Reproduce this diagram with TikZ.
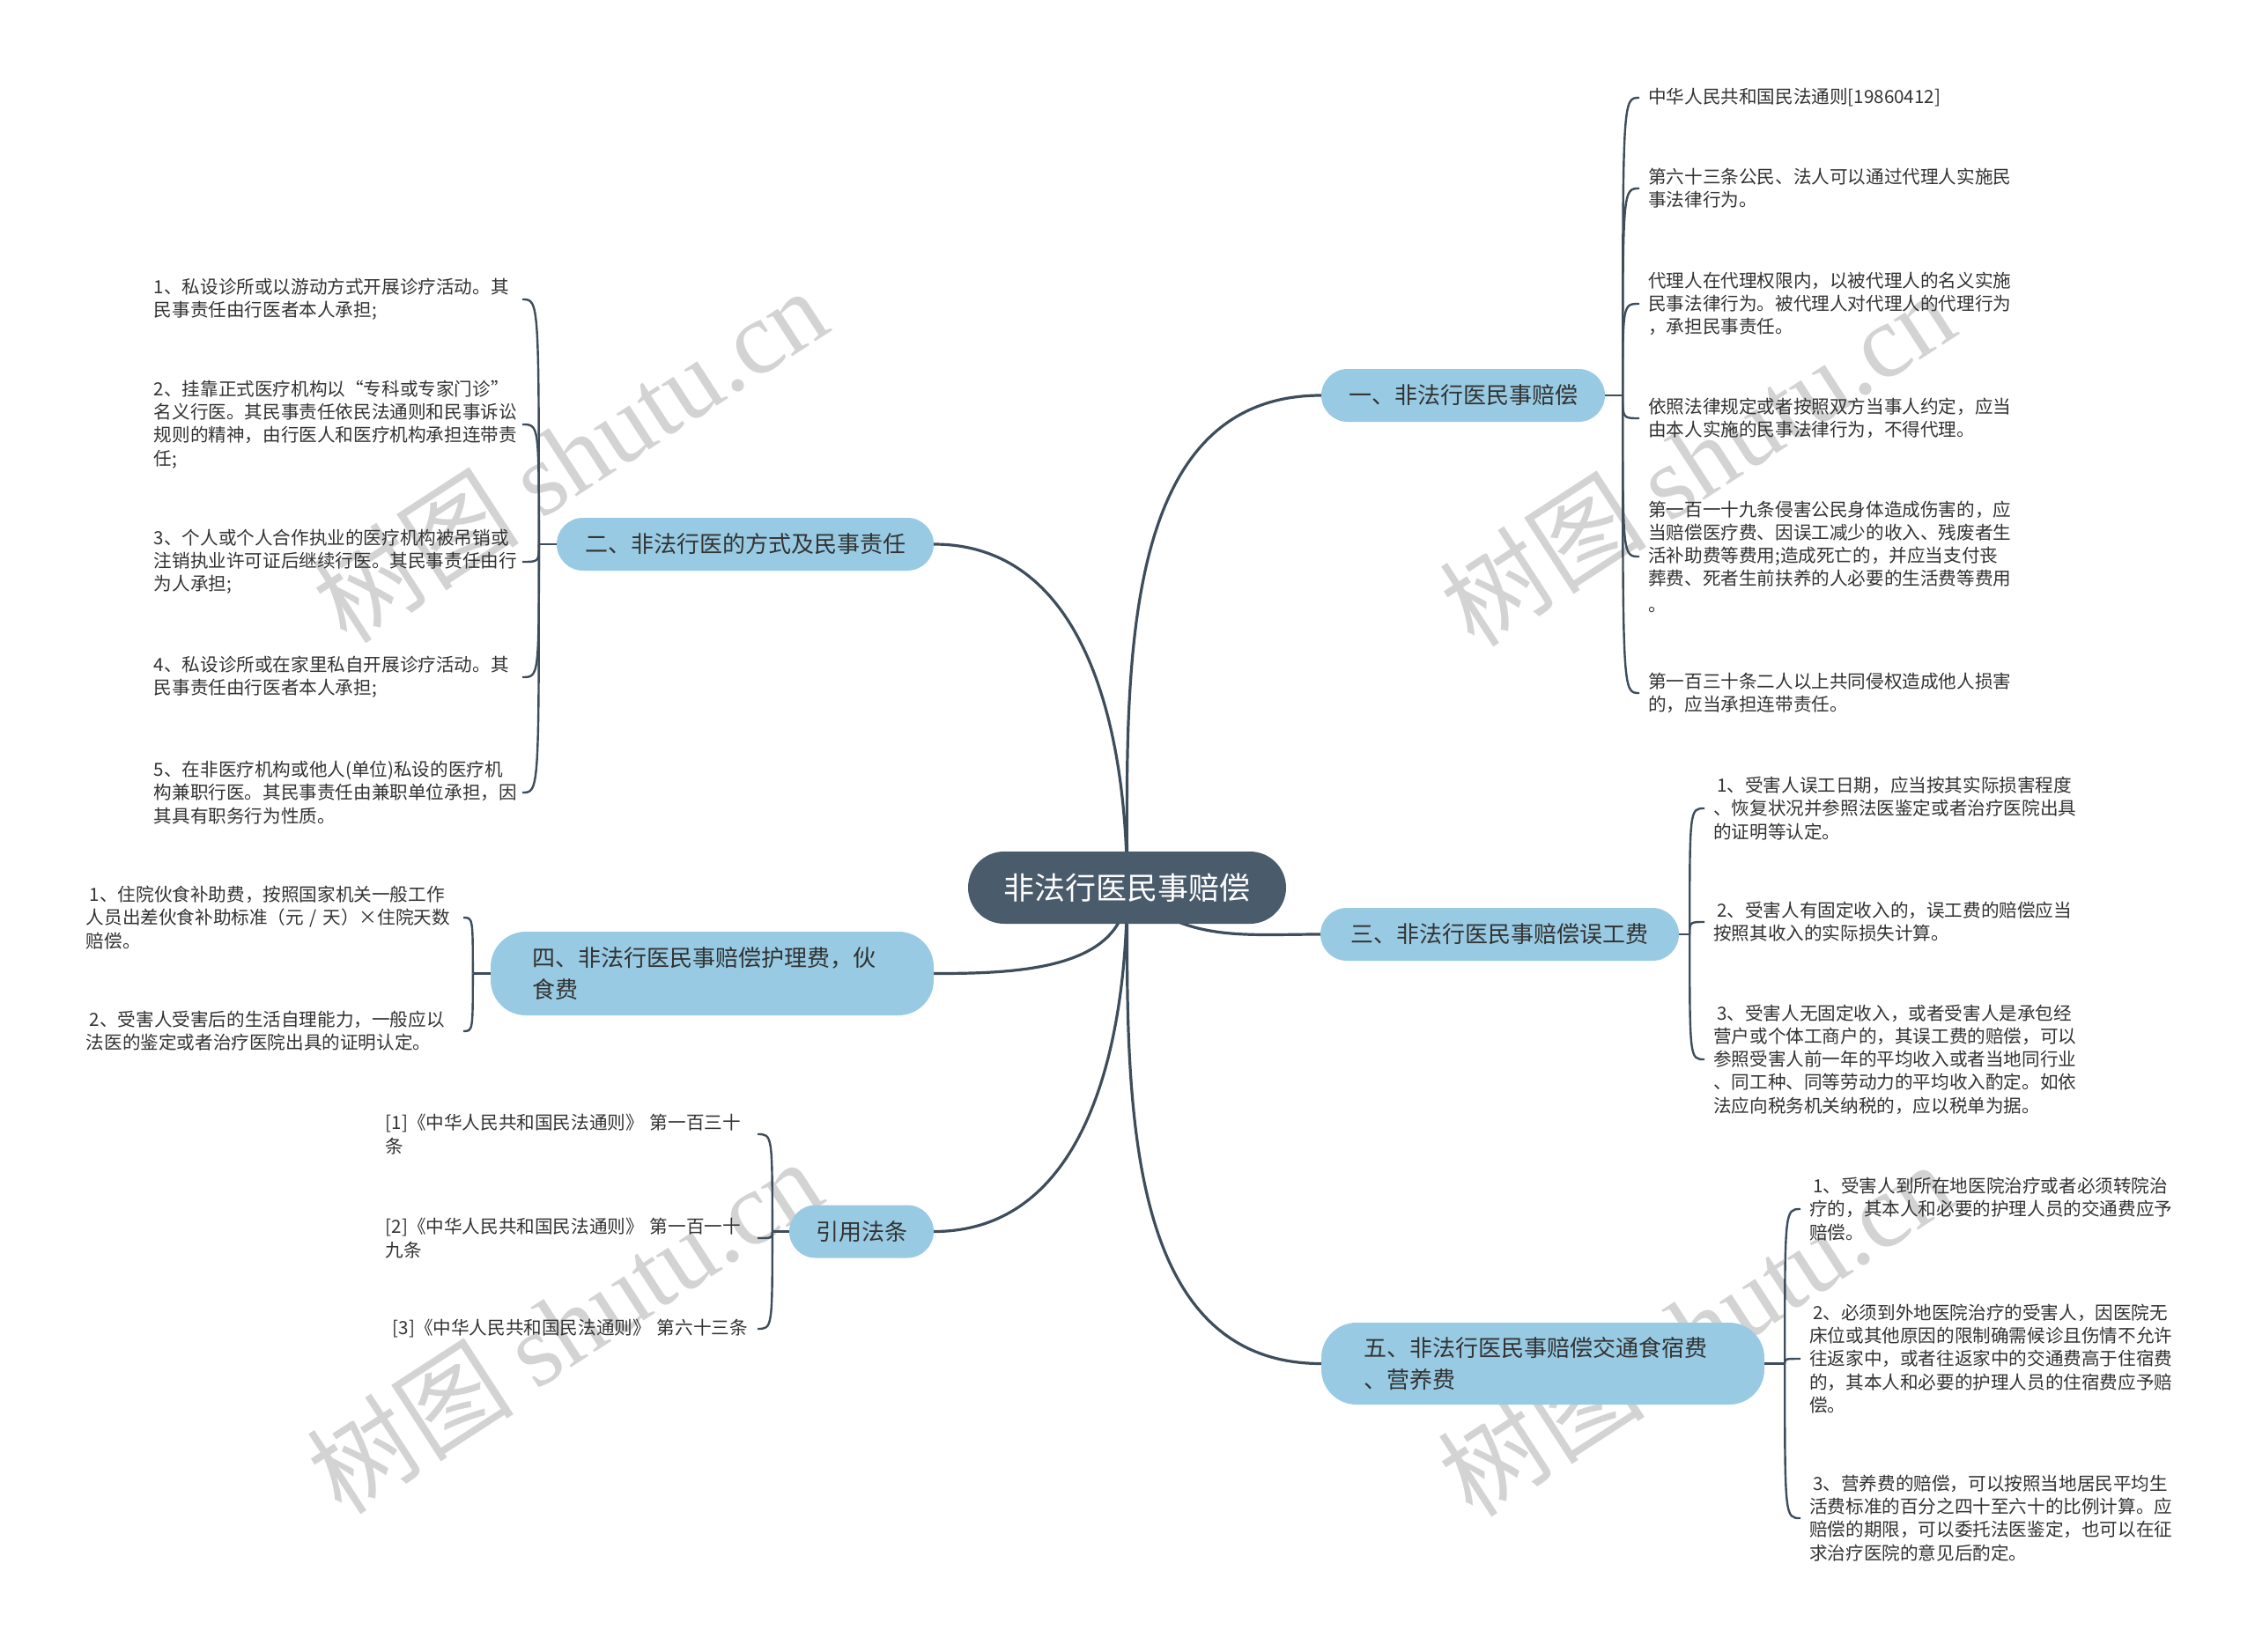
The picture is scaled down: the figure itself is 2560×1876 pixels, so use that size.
\documentclass[tikz,border=0pt]{standalone}
\usepackage{fontspec}
\setmainfont{Noto Sans CJK SC}
\newfontfamily\wmserif{Liberation Serif}
\usetikzlibrary{backgrounds}

\definecolor{lineC}{HTML}{3E4D5B}
\definecolor{rootC}{HTML}{4A5B6B}
\definecolor{mainC}{HTML}{98CBE3}
\definecolor{txtC}{HTML}{333333}
\definecolor{wmC}{HTML}{D3D3D3}

\begin{document}
\begin{tikzpicture}[x=1pt,y=-1pt,
 root/.style={fill=rootC, text=white, rounded corners=41pt, minimum width=361pt, minimum height=82pt, inner sep=0pt, font=\fontsize{35}{42}\selectfont},
 mainnode/.style={fill=mainC, text=txtC, rounded corners=30pt, minimum height=60pt, inner sep=0pt, font=\fontsize{26}{36}\selectfont},
 leafR/.style={anchor=west, inner xsep=10pt, inner ysep=0pt, text width=425pt, align=left, text=txtC, font=\fontsize{20.6}{26.2}\selectfont},
 leafL/.style={anchor=east, inner xsep=0pt, inner ysep=0pt, align=left, text=txtC, font=\fontsize{20.6}{26.2}\selectfont},
 link/.style={draw=lineC, line width=3.2pt},
 twig/.style={draw=lineC, line width=2.4pt},
 wm/.style={text=wmC, rotate=33, font=\fontsize{118}{122}\selectfont, inner sep=0pt}
]
\useasboundingbox (0,0) rectangle (2560,1876);

% root and main branches
\node[root] (C) at (1279.5,1008) {非法行医民事赔偿};
\node[mainnode, minimum width=322pt] (B1) at (1661,449) {一、非法行医民事赔偿};
\node[mainnode, minimum width=428pt] (B2) at (846,618) {二、非法行医的方式及民事责任};
\node[mainnode, minimum width=407pt] (B3) at (1702.5,1061) {三、非法行医民事赔偿误工费};
\node[mainnode, minimum width=503pt, minimum height=95pt, text width=409pt, align=left, rounded corners=40pt] (B4) at (808.5,1105.5) {四、非法行医民事赔偿护理费，伙\\食费};
\node[mainnode, minimum width=164pt] (B5) at (978,1398.5) {引用法条};
\node[mainnode, minimum width=503pt, minimum height=93pt, text width=407pt, align=left, rounded corners=40pt] (B6) at (1751.5,1548.5) {五、非法行医民事赔偿交通食宿费\\、营养费};

% junctions
\coordinate (J1) at ([xshift=20pt]B1.east);
\coordinate (J2) at ([xshift=-20pt]B2.west);
\coordinate (J3) at ([xshift=12pt]B3.east);
\coordinate (J4) at ([xshift=-20pt]B4.west);
\coordinate (J5) at ([xshift=-19pt]B5.west);
\coordinate (J6) at ([xshift=23pt]B6.east);

% branch 1 leaves
\node[leafR] (L1a) at (1861,111) {中华人民共和国民法通则[19860412]};
\node[leafR] (L1b) at (1861,214) {第六十三条公民、法人可以通过代理人实施民\\事法律行为。};
\node[leafR] (L1c) at (1861,345) {代理人在代理权限内，以被代理人的名义实施\\民事法律行为。被代理人对代理人的代理行为\\，承担民事责任。};
\node[leafR] (L1d) at (1861,475) {依照法律规定或者按照双方当事人约定，应当\\由本人实施的民事法律行为，不得代理。};
\node[leafR] (L1e) at (1861,632) {第一百一十九条侵害公民身体造成伤害的，应\\当赔偿医疗费、因误工减少的收入、残废者生\\活补助费等费用;造成死亡的，并应当支付丧\\葬费、死者生前扶养的人必要的生活费等费用\\[3pt]。};
\node[leafR] (L1f) at (1861,787) {第一百三十条二人以上共同侵权造成他人损害\\的，应当承担连带责任。};

% branch 2 leaves
\node[leafL, text width=418pt] (L2a) at (593,340) {1、私设诊所或以游动方式开展诊疗活动。其\\民事责任由行医者本人承担;};
\node[leafL, text width=418pt] (L2b) at (593,482) {2、挂靠正式医疗机构以“专科或专家门诊”\\名义行医。其民事责任依民法通则和民事诉讼\\规则的精神，由行医人和医疗机构承担连带责\\任;};
\node[leafL, text width=418pt] (L2c) at (593,638) {3、个人或个人合作执业的医疗机构被吊销或\\注销执业许可证后继续行医。其民事责任由行\\为人承担;};
\node[leafL, text width=418pt] (L2d) at (593,769) {4、私设诊所或在家里私自开展诊疗活动。其\\民事责任由行医者本人承担;};
\node[leafL, text width=418pt] (L2e) at (593,900) {5、在非医疗机构或他人(单位)私设的医疗机\\构兼职行医。其民事责任由兼职单位承担，因\\其具有职务行为性质。};

% branch 3 leaves
\node[leafR] (L3a) at (1935,918) {\hspace*{4pt}1、受害人误工日期，应当按其实际损害程度\\、恢复状况并参照法医鉴定或者治疗医院出具\\的证明等认定。};
\node[leafR] (L3b) at (1935,1047) {\hspace*{4pt}2、受害人有固定收入的，误工费的赔偿应当\\按照其收入的实际损失计算。};
\node[leafR] (L3c) at (1935,1203) {\hspace*{4pt}3、受害人无固定收入，或者受害人是承包经\\营户或个体工商户的，其误工费的赔偿，可以\\参照受害人前一年的平均收入或者当地同行业\\、同工种、同等劳动力的平均收入酌定。如依\\法应向税务机关纳税的，应以税单为据。};

% branch 4 leaves
\node[leafL, text width=428pt] (L4a) at (526,1042) {\hspace*{4pt}1、住院伙食补助费，按照国家机关一般工作\\人员出差伙食补助标准（元 / 天）×住院天数\\赔偿。};
\node[leafL, text width=428pt] (L4b) at (526,1171) {\hspace*{4pt}2、受害人受害后的生活自理能力，一般应以\\法医的鉴定或者治疗医院出具的证明认定。};

% citations
\node[leafL, text width=422pt] (L5a) at (860,1288) {[1]《中华人民共和国民法通则》 第一百三十\\条};
\node[leafL, text width=422pt] (L5b) at (860,1406) {[2]《中华人民共和国民法通则》 第一百一十\\九条};
\node[leafL, text width=422pt] (L5c) at (860,1509) {\hspace*{8pt}[3]《中华人民共和国民法通则》 第六十三条};

% branch 5 leaves
\node[leafR] (L6a) at (2044,1373) {\hspace*{4pt}1、受害人到所在地医院治疗或者必须转院治\\疗的，其本人和必要的护理人员的交通费应予\\赔偿。};
\node[leafR] (L6b) at (2044,1543) {\hspace*{4pt}2、必须到外地医院治疗的受害人，因医院无\\床位或其他原因的限制确需候诊且伤情不允许\\往返家中，或者往返家中的交通费高于住宿费\\的，其本人和必要的护理人员的住宿费应予赔\\偿。};
\node[leafR] (L6c) at (2044,1724) {\hspace*{4pt}3、营养费的赔偿，可以按照当地居民平均生\\活费标准的百分之四十至六十的比例计算。应\\赔偿的期限，可以委托法医鉴定，也可以在征\\求治疗医院的意见后酌定。};

\begin{pgfonlayer}{background}
\fill[white] (0,0) rectangle (2560,1876);
% watermarks
\node[wm] (W1) at (646,516) {树图 {\wmserif shutu.cn}};
\node[wm] (W2) at (1926,520) {树图 {\wmserif shutu.cn}};
\node[wm] (W3) at (640,1505) {树图 {\wmserif shutu.cn}};
\node[wm] (W4) at (1924,1508) {树图 {\wmserif shutu.cn}};

% main connectors
\draw[link] (C.center) to[out=90,in=180] (B1.west);
\draw[link] (C.center) to[out=90,in=0] (B2.east);
\draw[link] (C.center) to[out=-45,in=180] (B3.west);
\draw[link] (C.center) to[out=-90,in=0] (B4.east);
\draw[link] (C.center) to[out=-90,in=0] (B5.east);
\draw[link] (C.center) to[out=-90,in=180] (B6.west);

% stubs
\draw[twig] (B1.east) -- (J1);
\draw[twig] (B2.west) -- (J2);
\draw[twig] (B3.east) -- (J3);
\draw[twig] (B4.west) -- (J4);
\draw[twig] (B5.west) -- (J5);
\draw[twig] (B6.east) -- (J6);

% leaf brackets
\foreach \l in {L1a,L1b,L1c,L1d,L1e,L1f}
  \draw[twig] (J1) .. controls (J1 |- \l.west) .. (\l.west);
\foreach \l in {L3a,L3b,L3c}
  \draw[twig] (J3) .. controls (J3 |- \l.west) .. (\l.west);
\foreach \l in {L6a,L6b,L6c}
  \draw[twig] (J6) .. controls (J6 |- \l.west) .. (\l.west);
\foreach \l in {L2a,L2b,L2c,L2d,L2e}
  \draw[twig] (J2) .. controls (J2 |- \l.east) .. (\l.east);
\foreach \l in {L4a,L4b}
  \draw[twig] (J4) .. controls (J4 |- \l.east) .. (\l.east);
\foreach \l in {L5a,L5b,L5c}
  \draw[twig] (J5) .. controls (J5 |- \l.east) .. (\l.east);
\end{pgfonlayer}
\end{tikzpicture}
\end{document}
